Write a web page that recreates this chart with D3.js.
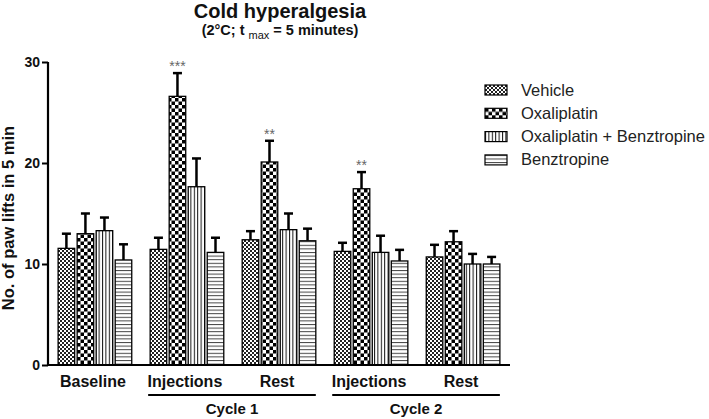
<!DOCTYPE html>
<html>
<head>
<script src="https://d3js.org/d3.v7.min.js"></script>
<style>
    body { margin: 0; background: #fff; }
    svg { font-family: "Liberation Sans", Arial, sans-serif; }
</style>
</head>
<body>
<script>
// groups along the x axis
var groups = ["Baseline", "Injections 1", "Rest 1", "Injections 2", "Rest 2"];
var groupLabels = ["Baseline", "Injections", "Rest", "Injections", "Rest"];
var series = ["Vehicle", "Oxaliplatin", "Oxaliplatin + Benztropine", "Benztropine"];

// means
var vehicle = [11.55, 11.45, 12.4, 11.25, 10.7];
var oxaliplatin = [13.0, 26.6, 20.1, 17.45, 12.2];
var oxaBenz = [13.3, 17.65, 13.4, 11.15, 10.0];
var benztropine = [10.4, 11.15, 12.3, 10.3, 10.0];

// SEM (error bars, upward only)
var vehicleErr = [1.45, 1.15, 0.85, 0.85, 1.2];
var oxaliplatinErr = [2.0, 2.3, 2.1, 1.65, 1.05];
var oxaBenzErr = [1.3, 2.8, 1.6, 1.65, 1.0];
var benztropineErr = [1.55, 1.45, 1.2, 1.1, 0.7];

// significance marks (Oxaliplatin vs vehicle)
var oxaliplatinStars = ["", "***", "**", "**", ""];

var yTicks = [0, 10, 20, 30];
var cycles = [
    { name: "Cycle 1", first: "Injections 1", last: "Rest 1" },
    { name: "Cycle 2", first: "Injections 2", last: "Rest 2" }
];

var means = [vehicle, oxaliplatin, oxaBenz, benztropine];
var errs = [vehicleErr, oxaliplatinErr, oxaBenzErr, benztropineErr];
var stars = [null, oxaliplatinStars, null, null];

var W = 709, H = 419;
var svg = d3.select("body").append("svg")
    .attr("width", W)
    .attr("height", H);

// patterns
var defs = svg.append("defs");
var p1 = defs.append("pattern").attr("id", "pat0").attr("patternUnits", "userSpaceOnUse")
    .attr("width", 4).attr("height", 4);
p1.append("rect").attr("width", 4).attr("height", 4).attr("fill", "#fff");
p1.append("rect").attr("width", 2).attr("height", 2).attr("fill", "#222");
p1.append("rect").attr("x", 2).attr("y", 2).attr("width", 2).attr("height", 2).attr("fill", "#222");

var p2 = defs.append("pattern").attr("id", "pat1").attr("patternUnits", "userSpaceOnUse")
    .attr("width", 7).attr("height", 7);
p2.append("rect").attr("width", 7).attr("height", 7).attr("fill", "#fff");
p2.append("rect").attr("width", 3.5).attr("height", 3.5).attr("fill", "#000");
p2.append("rect").attr("x", 3.5).attr("y", 3.5).attr("width", 3.5).attr("height", 3.5).attr("fill", "#000");

var p3 = defs.append("pattern").attr("id", "pat2").attr("patternUnits", "userSpaceOnUse")
    .attr("width", 3.4).attr("height", 4);
p3.append("rect").attr("width", 3.4).attr("height", 4).attr("fill", "#fff");
p3.append("rect").attr("width", 1).attr("height", 4).attr("fill", "#111");

var p4 = defs.append("pattern").attr("id", "pat3").attr("patternUnits", "userSpaceOnUse")
    .attr("width", 4).attr("height", 3.6);
p4.append("rect").attr("width", 4).attr("height", 3.6).attr("fill", "#fff");
p4.append("rect").attr("width", 4).attr("height", 1).attr("fill", "#444");

var plotLeft = 48, plotRight = 510, plotTop = 62, plotBottom = 365;

var x0 = d3.scaleBand().domain(groups).range([plotLeft, plotRight])
    .paddingInner(0.2).paddingOuter(0.11);
var x1 = d3.scaleBand().domain(series).range([0, x0.bandwidth()])
    .paddingInner(0.13).paddingOuter(0);
var y = d3.scaleLinear().domain([0, 30]).range([plotBottom, plotTop]);

// bars
var g = svg.append("g");
groups.forEach(function(grp, gi) {
    series.forEach(function(s, si) {
        var bx = x0(grp) + x1(s);
        var v = means[si][gi];
        var e = errs[si][gi];
        var cx = bx + x1.bandwidth() / 2;
        // error bar
        g.append("line")
            .attr("x1", cx).attr("x2", cx)
            .attr("y1", y(v)).attr("y2", y(v + e))
            .attr("stroke", "#000").attr("stroke-width", 2.5);
        g.append("line")
            .attr("x1", cx - 4.5).attr("x2", cx + 4.5)
            .attr("y1", y(v + e)).attr("y2", y(v + e))
            .attr("stroke", "#000").attr("stroke-width", 2.5);
        g.append("rect")
            .attr("x", bx).attr("y", y(v))
            .attr("width", x1.bandwidth()).attr("height", y(0) - y(v))
            .attr("fill", "url(#pat" + si + ")")
            .attr("stroke", "#000").attr("stroke-width", 1.3);
        if (stars[si] && stars[si][gi]) {
            g.append("text")
                .attr("x", cx).attr("y", y(v + e) - 2)
                .attr("text-anchor", "middle")
                .attr("fill", "#666")
                .style("font-size", "14px")
                .text(stars[si][gi]);
        }
    });
});

// y axis
var yAxis = d3.axisLeft(y).tickValues(yTicks).tickSize(6).tickPadding(2);
var ya = svg.append("g").attr("transform", "translate(" + plotLeft + ",0)").call(yAxis);
ya.select(".domain").attr("stroke-width", 2.2).attr("d", "M0," + plotTop + "V" + plotBottom);
ya.selectAll(".tick line").attr("stroke-width", 2);
ya.selectAll(".tick text").style("font-size", "14px").style("font-weight", "bold")
    .attr("fill", "#111").attr("font-family", "Liberation Sans, Arial, sans-serif");

// x axis line
svg.append("line").attr("x1", plotLeft - 1).attr("x2", plotRight)
    .attr("y1", plotBottom).attr("y2", plotBottom)
    .attr("stroke", "#000").attr("stroke-width", 2.2);

// group labels
svg.selectAll(".glabel").data(groups).enter().append("text")
    .attr("x", function(d) { return x0(d) + x0.bandwidth() / 2 - 2; })
    .attr("y", 387)
    .attr("text-anchor", "middle")
    .style("font-size", "16px").style("font-weight", "bold").attr("fill", "#111")
    .text(function(d, i) { return groupLabels[i]; });

// cycle brackets
cycles.forEach(function(c) {
    var xa = x0(c.first) - 2, xb = x0(c.last) + x0.bandwidth();
    svg.append("line").attr("x1", xa).attr("x2", xb)
        .attr("y1", 395).attr("y2", 395)
        .attr("stroke", "#000").attr("stroke-width", 1.8);
    svg.append("text").attr("x", (xa + xb) / 2).attr("y", 414)
        .attr("text-anchor", "middle")
        .style("font-size", "15px").style("font-weight", "bold").attr("fill", "#111")
        .text(c.name);
});

// y label
svg.append("text")
    .attr("transform", "translate(14,218) rotate(-90)")
    .attr("text-anchor", "middle")
    .style("font-size", "16.5px").style("font-weight", "bold").attr("fill", "#111")
    .text("No. of paw lifts in 5 min");

// title
svg.append("text").attr("x", 280).attr("y", 18)
    .attr("text-anchor", "middle")
    .style("font-size", "20px").style("font-weight", "bold").attr("fill", "#111")
    .text("Cold hyperalgesia");
var sub = svg.append("text").attr("x", 280).attr("y", 35)
    .attr("text-anchor", "middle")
    .style("font-size", "14.5px").style("font-weight", "bold").attr("fill", "#111");
sub.append("tspan").text("(2°C; t ");
sub.append("tspan").attr("dy", 4).style("font-size", "11px").style("font-weight", "normal").text("max");
sub.append("tspan").attr("dy", -4).text(" = 5 minutes)");

// legend
var leg = svg.append("g").attr("transform", "translate(485,85)");
series.forEach(function(s, i) {
    var row = leg.append("g").attr("transform", "translate(0," + (i * 23.3) + ")");
    row.append("rect").attr("width", 22).attr("height", 10)
        .attr("fill", "url(#pat" + i + ")")
        .attr("stroke", "#000").attr("stroke-width", 1.2);
    row.append("text").attr("x", 36).attr("y", 10.5)
        .style("font-size", "16.5px").attr("fill", "#222")
        .text(s);
});
</script>
</body>
</html>
